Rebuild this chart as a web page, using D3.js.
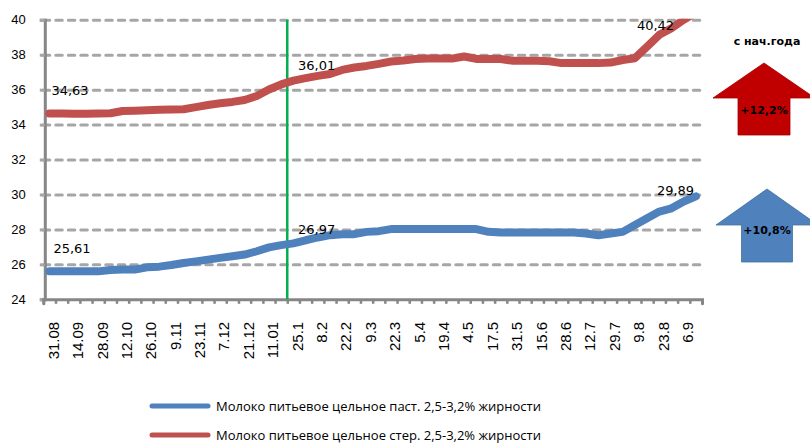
<!DOCTYPE html>
<html>
<head>
<meta charset="utf-8">
<script src="https://cdnjs.cloudflare.com/ajax/libs/d3/7.8.5/d3.min.js"></script>
<style>
  body { margin: 0; background: #fff; }
  svg { display: block; font-family: "DejaVu Sans", sans-serif; }
  .grid line { stroke: #a6a6a6; stroke-width: 3; stroke-dasharray: 6.5 6; stroke-linecap: round; }
  .grid .domain { display: none; }
</style>
</head>
<body>
<div id="vis"></div>
<script>
// Tick labels (every other weekly category)
var tickLabels = ['31.08', '14.09', '28.09', '12.10', '26.10', '9.11', '23.11', '7.12', '21.12', '11.01',
    '25.1', '8.2', '22.2', '9.3', '22.3', '5.4', '19.4', '4.5', '17.5', '31.5', '15.6', '28.6',
    '12.7', '29.7', '9.8', '23.8', '6.9'];

// Weekly prices, rub
var pastValues = [25.61, 25.60, 25.60, 25.60, 25.60, 25.68, 25.71, 25.70, 25.83, 25.87,
    25.96, 26.08, 26.17, 26.27, 26.37, 26.46, 26.56, 26.75, 26.97, 27.10,
    27.20, 27.38, 27.54, 27.67, 27.73, 27.73, 27.86, 27.90, 28.02, 28.02,
    28.02, 28.02, 28.02, 28.02, 28.02, 28.02, 27.86, 27.83, 27.83, 27.83,
    27.83, 27.83, 27.83, 27.83, 27.77, 27.67, 27.77, 27.86, 28.25, 28.64,
    29.02, 29.21, 29.60, 29.89];

var sterValues = [34.63, 34.63, 34.62, 34.62, 34.63, 34.65, 34.78, 34.80, 34.82, 34.85,
    34.87, 34.88, 35.00, 35.12, 35.22, 35.30, 35.41, 35.64, 36.01, 36.30,
    36.52, 36.66, 36.79, 36.90, 37.13, 37.27, 37.36, 37.48, 37.61, 37.67,
    37.76, 37.78, 37.78, 37.78, 37.90, 37.76, 37.76, 37.76, 37.65, 37.65,
    37.65, 37.63, 37.52, 37.52, 37.52, 37.52, 37.55, 37.70, 37.80, 38.47,
    39.14, 39.52, 40.00, 40.42];

var seriesNames = ['Молоко питьевое цельное паст. 2,5-3,2% жирности',
    'Молоко питьевое цельное стер. 2,5-3,2% жирности'];
var seriesColors = ['#4f81bd', '#c0504d'];

var yTicks = [24, 26, 28, 30, 32, 34, 36, 38, 40];
var changeTitle = 'с нач.года';
var changeLabels = ['+10,8%', '+12,2%'];
var labelIndexes = [0, 18, 53];   // points with value labels
var yearStartIndex = 20;          // green marker before this category

var width = 810, height = 443;
var plot = { left: 43.3, right: 702, top: 19.8, bottom: 299.3 };

var svg = d3.select('#vis').append('svg')
    .attr('width', width)
    .attr('height', height);

var n = sterValues.length;
var xScale = d3.scaleBand()
    .domain(d3.range(n))
    .range([plot.left, plot.right]);
var xBound = d3.scaleLinear()
    .domain([0, n])
    .range([plot.left, plot.right]);
var yScale = d3.scaleLinear()
    .domain([24, 40])
    .range([plot.bottom, plot.top]);

function cx(i) { return xScale(i) + xScale.bandwidth() / 2; }

// Gridlines
svg.append('g')
    .attr('class', 'grid')
    .attr('transform', 'translate(' + plot.left + ',0)')
    .call(d3.axisLeft(yScale).tickValues(yTicks.slice(1)).tickSize(-(plot.right - plot.left)).tickFormat(''));

// Y axis
var yAxisG = svg.append('g')
    .attr('transform', 'translate(' + (plot.left + 1.5) + ',0)')
    .call(d3.axisLeft(yScale).tickValues(yTicks).tickSize(5).tickPadding(6));
yAxisG.select('.domain').attr('stroke', '#868686').attr('stroke-width', 3);
yAxisG.selectAll('.tick line').attr('stroke', '#a6a6a6').attr('stroke-width', 3);
yAxisG.selectAll('.tick text').attr('font-size', 13).attr('fill', '#000')
    .attr('x', -19);

// X axis: tick marks at category boundaries
var xTickG = svg.append('g')
    .attr('transform', 'translate(0,' + plot.bottom + ')')
    .call(d3.axisBottom(xBound).tickValues(d3.range(n + 1)).tickSize(4.5).tickFormat(''));
xTickG.select('.domain').attr('stroke', '#868686').attr('stroke-width', 3).attr('stroke-linecap', 'round');
xTickG.selectAll('.tick line').attr('stroke', '#868686').attr('stroke-width', 2.5);

// X axis labels on every other category
var xLabelG = svg.append('g')
    .attr('transform', 'translate(0,' + plot.bottom + ')')
    .call(d3.axisBottom(xScale)
        .tickValues(tickLabels.map(function(d, i) { return i * 2; }))
        .tickSize(0)
        .tickFormat(function(d) { return tickLabels[d / 2]; }));
xLabelG.select('.domain').remove();
xLabelG.selectAll('text')
    .attr('font-family', '"Liberation Sans", Arial, sans-serif')
    .attr('font-size', 15)
    .attr('fill', '#000')
    .attr('text-anchor', 'end')
    .attr('transform', 'rotate(-90)')
    .attr('x', -22.5)
    .attr('y', 0)
    .attr('dy', '0.62em');

// Year start marker
svg.append('line')
    .attr('x1', xBound(yearStartIndex)).attr('x2', xBound(yearStartIndex))
    .attr('y1', plot.top).attr('y2', plot.bottom)
    .attr('stroke', '#00b050')
    .attr('stroke-width', 2.5);

// Lines, clipped to the plot area
svg.append('clipPath').attr('id', 'clip')
    .append('rect')
    .attr('x', 0).attr('y', plot.top - 1)
    .attr('width', width).attr('height', plot.bottom - plot.top + 10);

var line = d3.line()
    .x(function(d, i) { return cx(i); })
    .y(function(d) { return yScale(d); });

var allSeries = [pastValues, sterValues];
svg.append('g').attr('clip-path', 'url(#clip)')
    .selectAll('path')
    .data(allSeries)
    .enter().append('path')
    .attr('d', line)
    .attr('fill', 'none')
    .attr('stroke', function(d, i) { return seriesColors[i]; })
    .attr('stroke-width', 8)
    .attr('stroke-linejoin', 'round')
    .attr('stroke-linecap', 'round');

// Data labels (moved off the points like in the source sheet)
var fmt = function(v) { return d3.format('.2f')(v).replace('.', ','); };
var labelShift = {
    0: [[4, -18], [2, -19]],
    18: [[29, -13], [29, -20]],
    53: [[-39, -1], [-59, 10]]
};
allSeries.forEach(function(values, s) {
    labelIndexes.forEach(function(i) {
        var sh = labelShift[i][s];
        var yy = s === 1 && i === 53 ? plot.top : yScale(values[i]);
        svg.append('text')
            .attr('x', cx(i) + sh[0])
            .attr('y', yy + sh[1])
            .attr('font-size', 13)
            .attr('fill', '#000')
            .text(fmt(values[i]));
    });
});

// Change arrows
svg.append('text')
    .attr('x', 767).attr('y', 45)
    .attr('text-anchor', 'middle')
    .attr('font-size', 11)
    .attr('font-weight', 'bold')
    .text(changeTitle);

function arrow(cxA, tipY, headY, bottomY, halfHead, halfShaft) {
    return [[cxA, tipY], [cxA + halfHead, headY], [cxA + halfShaft, headY], [cxA + halfShaft, bottomY],
        [cxA - halfShaft, bottomY], [cxA - halfShaft, headY], [cxA - halfHead, headY]];
}
var arrows = [
    { pts: arrow(767, 189, 225, 262, 51, 25.5), fill: '#4f81bd', stroke: '#41719c', ty: 234 },
    { pts: arrow(764, 63, 98, 135, 51, 26), fill: '#c00000', stroke: '#a50000', ty: 114 }
];
arrows.forEach(function(a, i) {
    svg.append('polygon')
        .attr('points', a.pts.map(function(p) { return p.join(','); }).join(' '))
        .attr('fill', a.fill)
        .attr('stroke', a.stroke)
        .attr('stroke-width', 0.8);
    svg.append('text')
        .attr('x', a.pts[0][0]).attr('y', a.ty)
        .attr('text-anchor', 'middle')
        .attr('font-size', 11)
        .attr('font-weight', 'bold')
        .attr('fill', '#000')
        .text(changeLabels[i]);
});

// Legend
var legend = svg.selectAll('.legend')
    .data(seriesNames)
    .enter().append('g')
    .attr('class', 'legend')
    .attr('transform', function(d, i) { return 'translate(150,' + (406 + i * 29) + ')'; });
legend.append('line')
    .attr('x1', 2).attr('x2', 58)
    .attr('stroke', function(d, i) { return seriesColors[i]; })
    .attr('stroke-width', 5)
    .attr('stroke-linecap', 'round');
legend.append('text')
    .attr('x', 66)
    .attr('dy', '0.35em')
    .attr('font-family', '"Open Sans", sans-serif')
    .attr('font-size', 13)
    .attr('fill', '#000')
    .text(function(d) { return d; });
</script>
</body>
</html>
